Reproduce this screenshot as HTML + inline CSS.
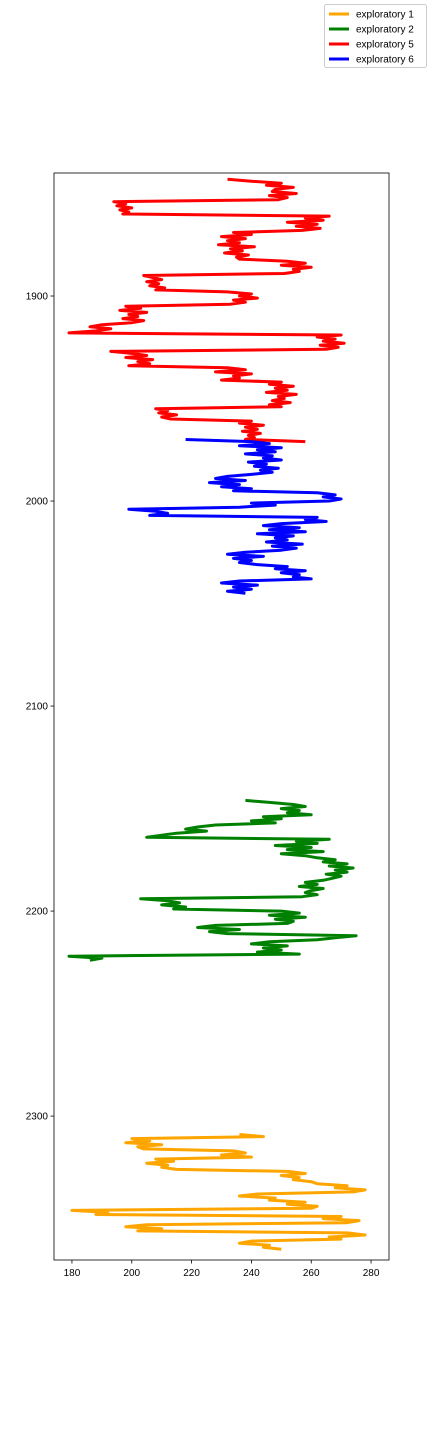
<!DOCTYPE html>
<html><head><meta charset="utf-8"><style>
body{margin:0;background:#fff;}
svg text{font-family:"Liberation Sans",sans-serif;font-size:10px;fill:#000;}
</style></head><body>
<svg id="chart" width="432" height="1440" xmlns="http://www.w3.org/2000/svg"></svg>
<script>
const xTicks=[180,200,220,240,260,280];
const yTicks=[1900,2000,2100,2200,2300];
const seriesNames=["exploratory 1","exploratory 2","exploratory 5","exploratory 6"];
const seriesColors=["orange","green","red","blue"];
const redStart=1843;
const redVals=[232,240,250,245,254,248,247,255,246,252,249,194,198,195,200,196,199,197,266,258,264,252,262,255,263,257,234,240,230,238,232,236,229,241,233,237,231,239,235,236,252,258,250,260,254,256,251,204,207,210,205,209,206,211,208,232,240,236,242,234,238,233,198,203,196,205,199,202,197,204,200,190,186,193,188,179,270,262,268,264,271,263,269,265,193,200,205,198,207,202,206,199,232,238,228,240,234,236,230,250,246,254,248,252,245,255,249,251,247,253,246,250,208,212,209,215,210,213,240,236,244,238,242,237,243,239,241,238,258];
const blueStart=1970;
const blueVals=[218,240,246,236,250,242,248,238,247,244,250,239,245,241,249,243,247,240,232,228,238,226,236,230,240,234,262,268,264,270,266,240,248,236,199,208,212,206,262,258,265,250,244,256,246,258,242,254,248,252,245,257,247,255,250,238,232,244,234,240,236,242,252,248,258,250,256,254,260,236,230,242,234,240,232,238];
const greenStart=2146;
const greenVals=[238,246,254,258,250,256,252,260,244,250,240,248,228,222,218,225,215,210,205,266,255,262,248,260,252,264,250,258,262,268,264,272,266,274,268,272,265,270,267,264,258,262,256,264,260,258,262,257,203,212,216,210,218,214,250,256,246,258,248,254,252,228,222,236,226,232,275,268,262,246,240,252,244,250,242,256,179,190,186];
const orangeStart=2309;
const orangeVals=[236,244,200,206,198,210,202,204,234,238,230,240,208,214,205,212,210,215,252,258,250,256,254,260,262,272,268,278,274,242,236,248,246,258,252,262,260,180,192,188,270,264,276,272,205,198,210,202,272,278,266,270,240,236,246,244,250];

const svg=document.getElementById('chart');
const NS="http://www.w3.org/2000/svg";
const L=54,R=389,T=173,B=1260;
const xmin=174,xmax=286,ymin=1840,ymax=2370.2;
const xs=v=>L+(v-xmin)/(xmax-xmin)*(R-L);
const ys=d=>T+(d-ymin)/(ymax-ymin)*(B-T);
function mk(tag,at){const e=document.createElementNS(NS,tag);for(const k in at)e.setAttribute(k,at[k]);svg.appendChild(e);return e;}

const clip=mk('clipPath',{id:'pc'});
const cr=document.createElementNS(NS,'rect');cr.setAttribute('x',L);cr.setAttribute('y',T);cr.setAttribute('width',R-L);cr.setAttribute('height',B-T);clip.appendChild(cr);

const frame=mk('rect',{x:L,y:T,width:R-L,height:B-T,fill:'none',stroke:'#000','stroke-width':0.8});



const sets=[[orangeStart,orangeVals,0],[greenStart,greenVals,1],[redStart,redVals,2],[blueStart,blueVals,3]];
sets.forEach(([s,vals,i])=>{
  const pts=vals.map((v,j)=>xs(v).toFixed(1)+','+ys(s+j).toFixed(1)).join(' ');
  const p=mk('polyline',{points:pts,fill:'none',stroke:seriesColors[i],'stroke-width':3,'stroke-linejoin':'round','clip-path':'url(#pc)'});
  
  
});

xTicks.forEach(t=>{
  const x=xs(t);
  mk('line',{x1:x,x2:x,y1:B,y2:B+3.5,stroke:'#000','stroke-width':0.8});
  const tx=mk('text',{x:x,y:B+16,'text-anchor':'middle'});tx.textContent=t;
  
  
});
yTicks.forEach(t=>{
  const y=ys(t);
  mk('line',{x1:L,x2:L-3.5,y1:y,y2:y,stroke:'#000','stroke-width':0.8});
  const tx=mk('text',{x:L-6,y:y+3.5,'text-anchor':'end'});tx.textContent=t;
  
  
});

const lg=mk('rect',{x:324.5,y:4.5,width:102,height:63,rx:2,fill:'#fff',stroke:'#ccc','stroke-width':1});


seriesNames.forEach((n,i)=>{
  const y=14+i*15;
  mk('line',{x1:329,x2:349,y1:y,y2:y,stroke:seriesColors[i],'stroke-width':3});
  const tx=mk('text',{x:356,y:y+3.5});tx.textContent=n;
  
  
});
</script>
</body></html>
